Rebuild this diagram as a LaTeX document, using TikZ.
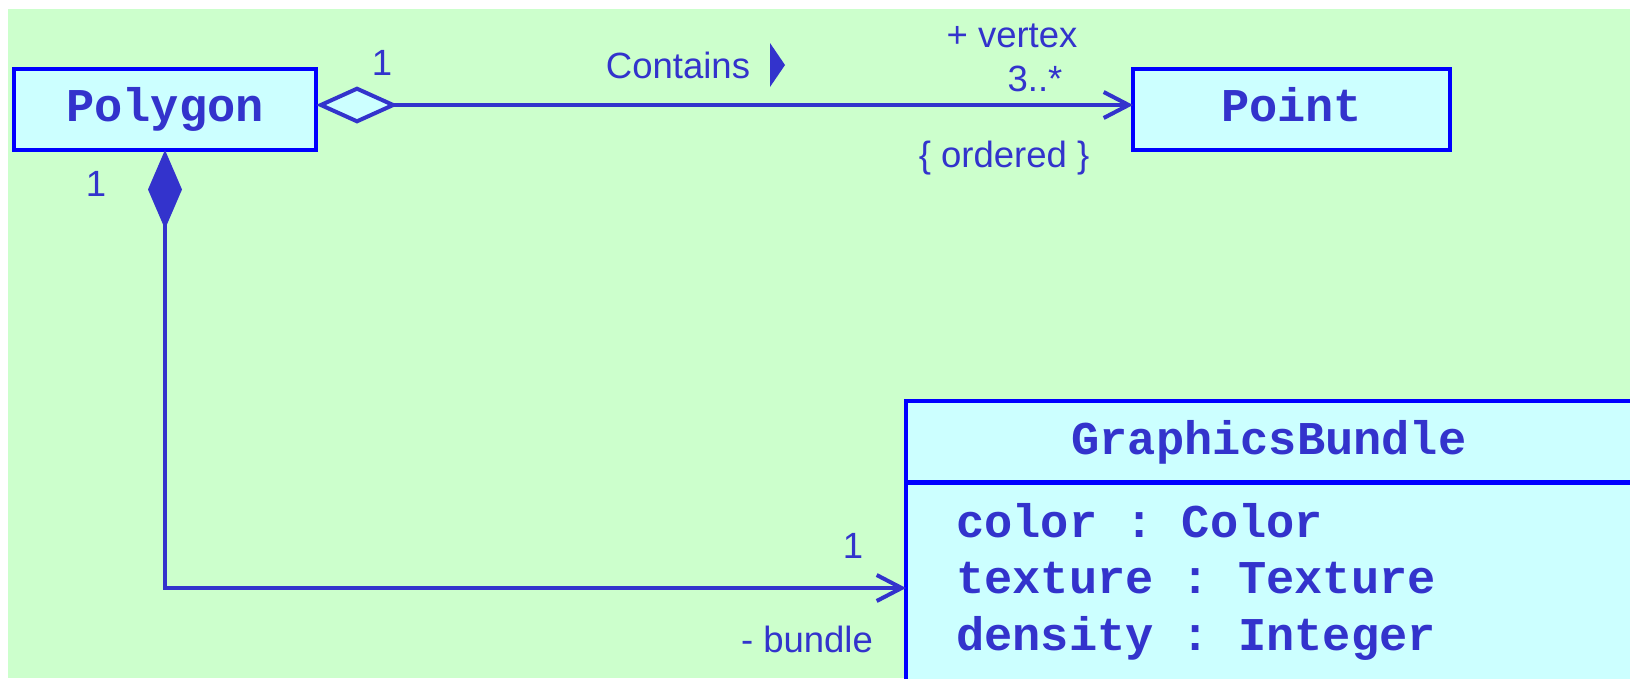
\documentclass[tikz,border=0pt]{standalone}
\usepackage{fontspec}
\setmainfont{Liberation Sans}
\newfontfamily\umlmono{Liberation Mono}
\usetikzlibrary{arrows.meta,positioning,calc}
\definecolor{umltinta}{RGB}{51,51,204}
\definecolor{umlborda}{RGB}{0,0,255}
\definecolor{umlfundo}{RGB}{204,255,255}
\definecolor{umlverde}{RGB}{204,255,204}
\frenchspacing

\begin{document}
\begin{tikzpicture}[
    x=1pt, y=-1pt,
    classe/.style={
        rectangle,
        draw=umlborda,
        fill=umlfundo,
        line width=4.5pt,
        outer sep=0pt,
        inner sep=0pt,
        text height=30pt,
        text depth=6pt,
        text=umltinta,
        font=\umlmono\bfseries\fontsize{47}{56}\selectfont
    },
    atributo/.style={
        inner sep=0pt,
        anchor=base west,
        text=umltinta,
        font=\umlmono\bfseries\fontsize{47}{56}\selectfont
    },
    rotulo/.style={
        inner sep=0pt,
        anchor=base,
        text=umltinta,
        font=\fontsize{36.5}{44}\selectfont
    },
    assoc/.style={draw=umltinta, line width=4pt},
    agregacao/.style={{Diamond[fill=umlfundo, length=82pt, width=37pt]}-{Straight Barb[length=25pt, width=26pt]}},
    composicao/.style={{Diamond[length=79pt, width=34pt]}-{Straight Barb[length=25pt, width=26pt]}}
]

% FUNDO
\useasboundingbox (0,0) rectangle (1630,678);
\clip (0,0) rectangle (1630,678);
\fill[white] (0,0) rectangle (1630,678);
\fill[umlverde] (8,9) rectangle (1630,678);

% CLASSES
\node[classe, minimum width=302pt, minimum height=81pt] (polygon) at (165,109.5) {Polygon};
\node[classe, minimum width=317pt, minimum height=81pt] (point) at (1291.5,109.5) {Point};
\node[classe, minimum width=726pt, minimum height=281pt, anchor=north west] (bundle) at (906,401) {};
\coordinate (divisao) at (906,482.5);
\draw[umlborda, line width=4.5pt] (divisao) -- (divisao -| bundle.east);
\node[classe, draw=none, fill=none] (bundlenome) at (1269,442) {GraphicsBundle};

% ATRIBUTOS
\node[atributo] (attrcor) at (956,537) {color : Color};
\node[atributo] (attrtextura) at (956,593.5) {texture : Texture};
\node[atributo] (attrdensidade) at (956,650) {density : Integer};

% --- ASSOCIACAO Polygon -> Point ---
\draw[assoc, agregacao] ([yshift=4.5pt]polygon.east) -- ([yshift=4.5pt]point.west);
\node[rotulo] (multpoly) at (382,75) {1};
\node[rotulo] (contains) at (678,78) {Contains};
\coordinate (sentido) at (785,65);
\fill[umltinta] (sentido) -- ++(-15,-22) -- ++(0,44) -- cycle;
\node[rotulo] (papelvertex) at (1012,47) {+ vertex};
\node[rotulo] (multvertex) at (1035,91) {3..*};
\node[rotulo] (ordered) at (1004,167) {\{ ordered \}};

% --- COMPOSICAO Polygon -> GraphicsBundle ---
\draw[assoc, composicao] (polygon.south) |- ([yshift=-46.5pt]bundle.west);
\node[rotulo] (multcomp) at (96,196) {1};
\node[rotulo] (multbundle) at (853,558) {1};
\node[rotulo] (papelbundle) at (807,652) {- bundle};

\end{tikzpicture}
\end{document}
